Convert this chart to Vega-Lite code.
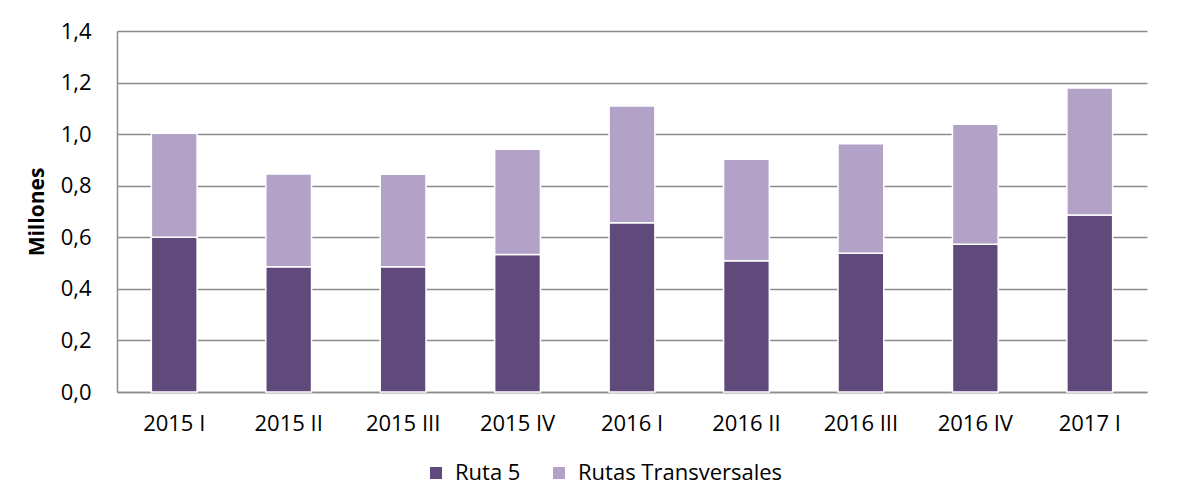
{
  "$schema": "https://vega.github.io/schema/vega-lite/v6.json",
  "width": 1030,
  "height": 361,
  "autosize": {"type": "none"},
  "padding": {"left": 117, "top": 31, "right": 38, "bottom": 102},
  "background": "white",
  "config": {
    "view": {"stroke": null},
    "font": "Open Sans"
  },
  "data": {
    "values": [
      {"trimestre": "2015 I", "serie": "Ruta 5", "valor": 0.600},
      {"trimestre": "2015 I", "serie": "Rutas Transversales", "valor": 0.403},
      {"trimestre": "2015 II", "serie": "Ruta 5", "valor": 0.486},
      {"trimestre": "2015 II", "serie": "Rutas Transversales", "valor": 0.359},
      {"trimestre": "2015 III", "serie": "Ruta 5", "valor": 0.486},
      {"trimestre": "2015 III", "serie": "Rutas Transversales", "valor": 0.358},
      {"trimestre": "2015 IV", "serie": "Ruta 5", "valor": 0.533},
      {"trimestre": "2015 IV", "serie": "Rutas Transversales", "valor": 0.408},
      {"trimestre": "2016 I", "serie": "Ruta 5", "valor": 0.656},
      {"trimestre": "2016 I", "serie": "Rutas Transversales", "valor": 0.453},
      {"trimestre": "2016 II", "serie": "Ruta 5", "valor": 0.509},
      {"trimestre": "2016 II", "serie": "Rutas Transversales", "valor": 0.394},
      {"trimestre": "2016 III", "serie": "Ruta 5", "valor": 0.538},
      {"trimestre": "2016 III", "serie": "Rutas Transversales", "valor": 0.425},
      {"trimestre": "2016 IV", "serie": "Ruta 5", "valor": 0.573},
      {"trimestre": "2016 IV", "serie": "Rutas Transversales", "valor": 0.465},
      {"trimestre": "2017 I", "serie": "Ruta 5", "valor": 0.686},
      {"trimestre": "2017 I", "serie": "Rutas Transversales", "valor": 0.493}
    ]
  },
  "mark": {"type": "bar", "stroke": "white", "strokeWidth": 1.5},
  "encoding": {
    "x": {
      "field": "trimestre",
      "type": "nominal",
      "sort": null,
      "scale": {"paddingInner": 0.6, "paddingOuter": 0.3},
      "axis": {
        "title": null,
        "labelAngle": 0,
        "labelFont": "Open Sans",
        "labelFontSize": 22,
        "labelColor": "black",
        "labelPadding": 21,
        "ticks": false,
        "domainColor": "#8c8c8c",
        "domainWidth": 1.5
      }
    },
    "y": {
      "field": "valor",
      "type": "quantitative",
      "stack": "zero",
      "scale": {"domain": [0, 1.4]},
      "axis": {
        "title": "Millones",
        "titleFont": "Open Sans",
        "titleFontSize": 21,
        "titleFontWeight": "bold",
        "titleColor": "black",
        "titlePadding": 13,
        "values": [0, 0.2, 0.4, 0.6, 0.8, 1.0, 1.2, 1.4],
        "labelExpr": "replace(format(datum.value, '.1f'), '.', ',')",
        "labelFont": "Open Sans",
        "labelFontSize": 22,
        "labelColor": "black",
        "labelPadding": 26,
        "ticks": false,
        "domainColor": "#8c8c8c",
        "domainWidth": 1.5,
        "gridColor": "#8c8c8c",
        "gridWidth": 1.5
      }
    },
    "order": {"field": "serie", "sort": "ascending"},
    "color": {
      "field": "serie",
      "type": "nominal",
      "scale": {"domain": ["Ruta 5", "Rutas Transversales"], "range": ["#604A7B", "#B3A2C7"]},
      "legend": {
        "title": null,
        "orient": "none",
        "direction": "horizontal",
        "legendX": 308,
        "legendY": 431,
        "symbolType": "square",
        "symbolSize": 144,
        "symbolStrokeWidth": 0,
        "labelFont": "Open Sans",
        "labelFontSize": 22,
        "labelColor": "black",
        "labelOffset": 8,
        "labelLimit": 500,
        "columnPadding": 27
      }
    }
  }
}
